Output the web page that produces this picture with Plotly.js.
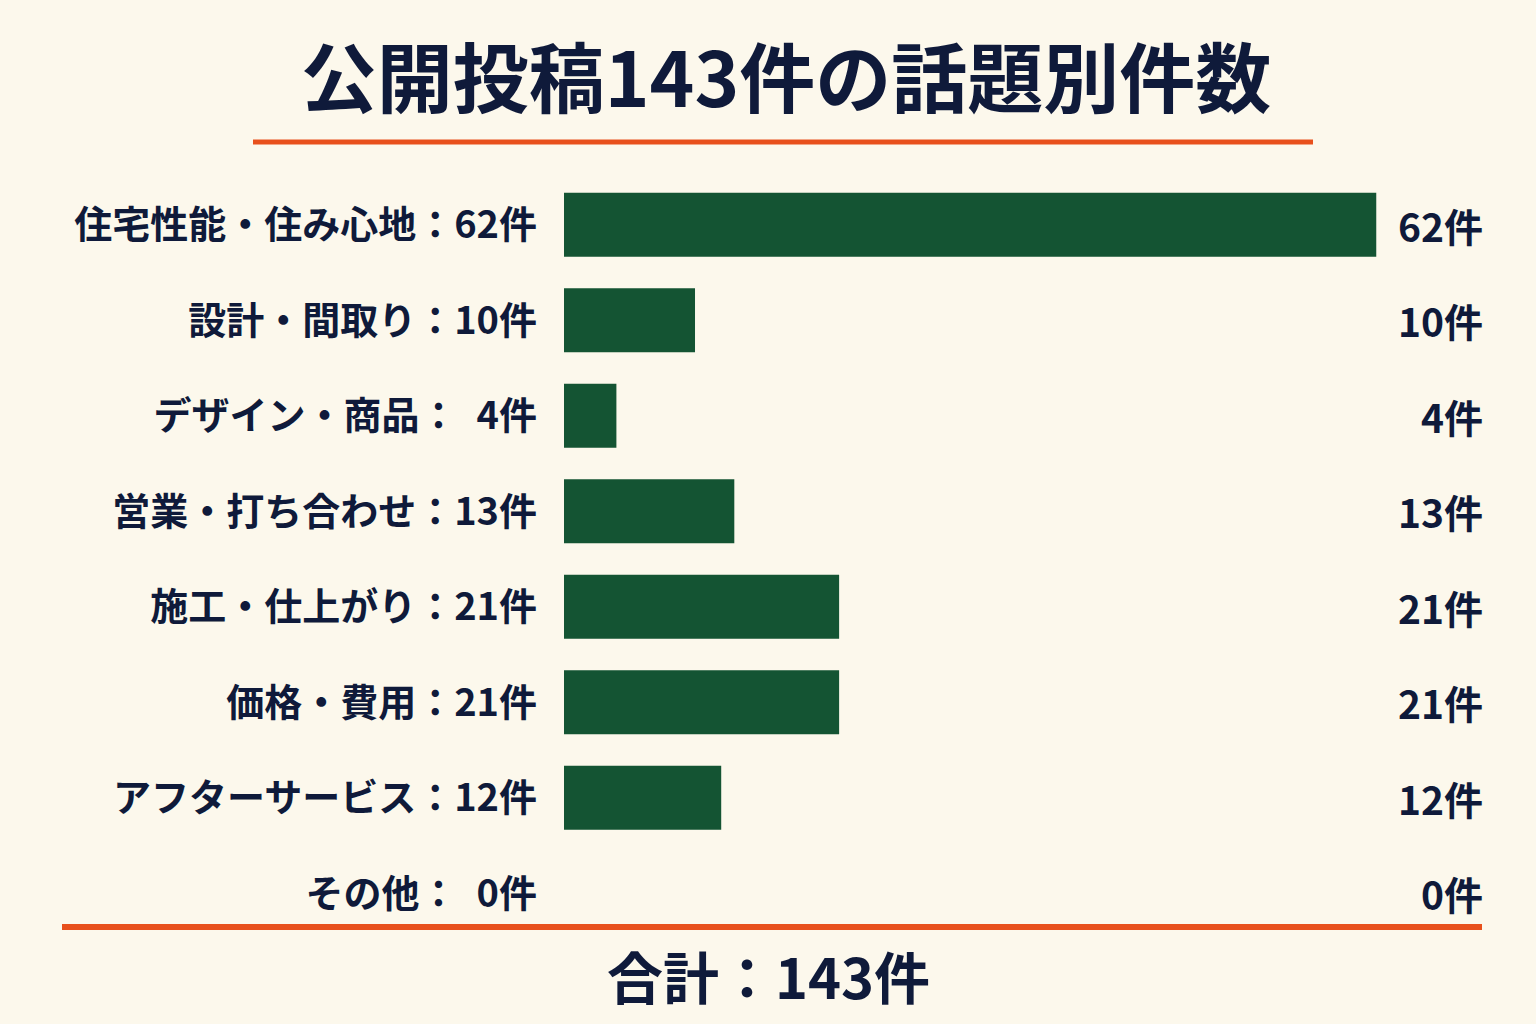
<!DOCTYPE html>
<html>
<head>
<meta charset="utf-8">
<script src="https://cdn.plot.ly/plotly-3.0.1.min.js"></script>
<style>
  html, body { margin: 0; padding: 0; background: #fcf8ec; }
  #chart { width: 1536px; height: 1024px; }
</style>
</head>
<body>
<div id="chart"></div>
<script>
// 話題別の件数
const topics = ['住宅性能・住み心地', '設計・間取り', 'デザイン・商品', '営業・打ち合わせ',
                '施工・仕上がり', '価格・費用', 'アフターサービス', 'その他'];
const counts = [62, 10, 4, 13, 21, 21, 12, 0];
const unit = '件';

const navy = '#0f1a3a';
const green = '#145433';
const orange = '#e8501c';
const jp = '"Noto Sans CJK JP", "Noto Sans", sans-serif';

const total = counts.reduce((a, b) => a + b, 0);

// 左側のラベル（1桁はスペースを入れる）
let labels = topics.map((t, i) => {
  let v = counts[i] < 10 ? '\u2002' + counts[i] : '' + counts[i];
  return '<b>' + t + '：' + v + unit + '</b>';
});

let trace = {
  type: 'bar',
  orientation: 'h',
  x: counts,
  y: labels,
  marker: {color: green},
  hoverinfo: 'none'
};

// 右側の件数
let annos = labels.map((lab, i) => ({
  xref: 'paper', yref: 'y',
  x: 1, y: lab,
  xanchor: 'right', yanchor: 'middle',
  text: '<b>' + counts[i] + unit + '</b>',
  showarrow: false,
  font: {family: jp, size: 39, color: navy}
}));

// 合計
annos.push({
  xref: 'paper', yref: 'paper',
  x: (768 - 564) / (1485 - 564), y: -(975 - 941) / (941 - 177),
  xanchor: 'center', yanchor: 'middle',
  text: '<b>合計：' + total + unit + '</b>',
  showarrow: false,
  font: {family: jp, size: 56, color: navy}
});

const pw = 1485 - 564, ph = 941 - 177;
const px = v => (v - 564) / pw;
const py = v => (941 - v) / ph;

let layout = {
  width: 1536,
  height: 1024,
  paper_bgcolor: '#fcf8ec',
  plot_bgcolor: '#fcf8ec',
  showlegend: false,
  margin: {l: 564, r: 51, t: 177, b: 83},
  bargap: 0.33,
  title: {
    text: '<b>公開投稿143件の話題別件数</b>',
    x: 786 / 1536, xanchor: 'center',
    y: 1 - 80 / 1024, yanchor: 'middle',
    font: {family: jp, size: 76, color: navy}
  },
  xaxis: {
    range: [0, 70.3],
    visible: false,
    fixedrange: true
  },
  yaxis: {
    autorange: 'reversed',
    showgrid: false,
    zeroline: false,
    showline: false,
    ticks: '',
    ticklabelstandoff: 26,
    tickfont: {family: jp, size: 38, color: navy},
    fixedrange: true
  },
  annotations: annos,
  shapes: [
    {type: 'line', xref: 'paper', yref: 'paper', x0: px(253), x1: px(1313), y0: py(142), y1: py(142),
     line: {color: orange, width: 5}},
    {type: 'line', xref: 'paper', yref: 'paper', x0: px(62), x1: px(1482), y0: py(927), y1: py(927),
     line: {color: orange, width: 6}}
  ]
};

Plotly.newPlot('chart', [trace], layout, {displayModeBar: false, staticPlot: true});
</script>
</body>
</html>
